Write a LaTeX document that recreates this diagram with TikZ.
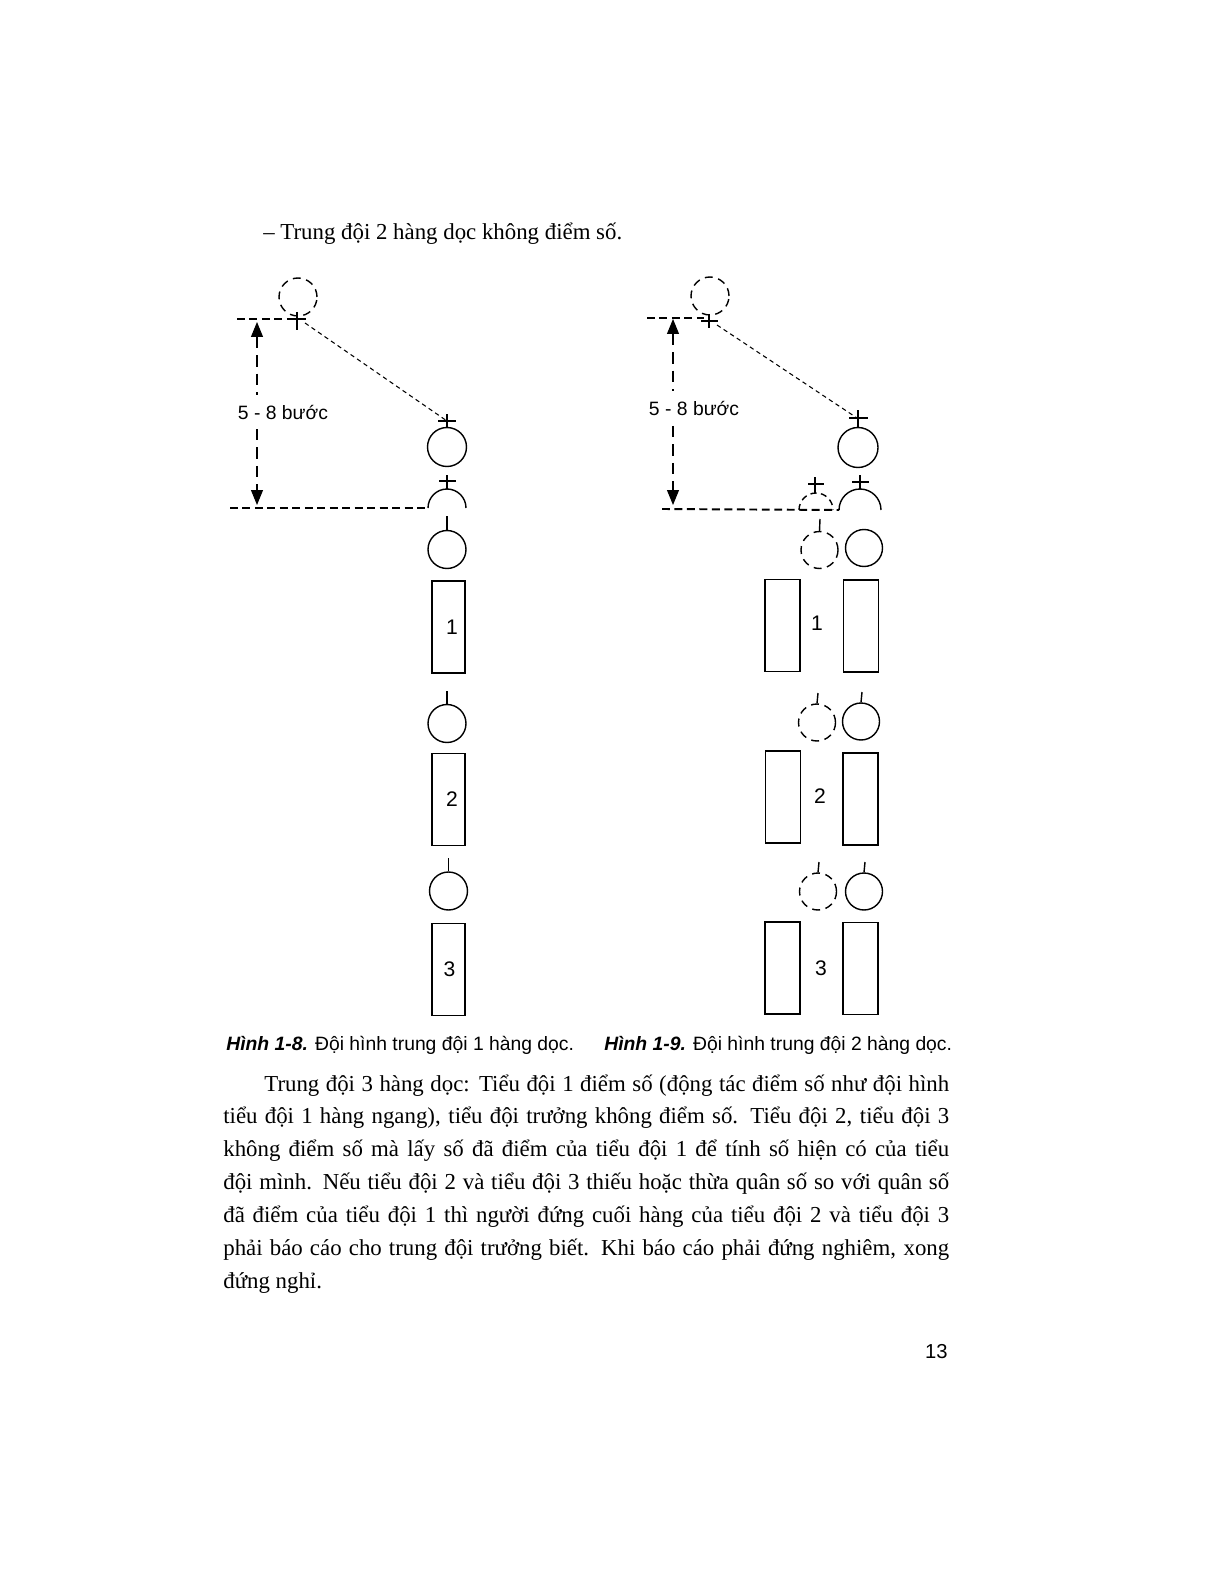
\documentclass[tikz,border=0pt]{standalone}
\usepackage{fontspec}
\setmainfont{Liberation Serif}
\setsansfont{Liberation Sans}
\usetikzlibrary{arrows.meta}

\begin{document}
\begin{tikzpicture}[x=0.02cm,y=-0.02cm,
  man/.style={circle,draw,line width=0.8pt,minimum size=0.76cm,inner sep=0pt},
  ghost/.style={man,dash pattern=on 4.5pt off 3.2pt},
  squad/.style={draw,line width=0.8pt,minimum width=0.68cm,minimum height=1.84cm,inner sep=0pt,font=\sffamily\fontsize{12}{12}\selectfont},
  guide/.style={line width=1.1pt,dash pattern=on 4.5pt off 2.6pt},
  dimline/.style={line width=0.6pt,dash pattern=on 6.5pt off 4pt,{Triangle[length=0.3cm,width=0.24cm]}-{Triangle[length=0.3cm,width=0.24cm]}},
  sight/.style={line width=0.6pt,dash pattern=on 2.5pt off 2pt},
  tick/.style={line width=0.8pt},
  capt/.style={anchor=base west,inner sep=0pt,font=\sffamily\fontsize{11}{13}\selectfont},
  dimlabel/.style={fill=white,inner xsep=1pt,inner ysep=0.2cm,font=\sffamily\fontsize{11}{13}\selectfont}]
  \useasboundingbox[fill=white] (0,0) rectangle (1224,1584);

  \node[anchor=base west,inner sep=0pt,font=\fontsize{13}{16}\selectfont] (head) at (263,240)
    {– Trung đội 2 hàng dọc không điểm số.};

  % Hinh 1-8
  \node[ghost] (Lcmd) at (298,297) {};
  \coordinate (Lpos) at (297,320);
  \coordinate (Ltop) at (237,319);
  \draw[guide] (Ltop) -- (292,319);
  \draw[tick] (297,312) -- (297,330) (289,319) -- (306,319);
  \node[man,minimum size=0.78cm] (Llead) at (447,447) {};
  \coordinate (Lsee) at (447,421);
  \draw[tick] (447,414) -- (Llead.north) (438,421) -- (456,421);
  \draw[sight] (305,323) -- (Lsee);
  \coordinate (Lhalf) at (447,508);
  \draw[line width=0.8pt] ([xshift=-0.38cm]Lhalf) arc[start angle=180,end angle=0,radius=0.38cm];
  \draw[tick] (447,475) -- (447,489) (439,481) -- (456,481);
  \coordinate (Lbase) at (230,508);
  \draw[guide] (Lbase) -- ([xshift=-0.38cm]Lhalf);
  \coordinate (Ldimtop) at (257,322);
  \coordinate (Ldimbot) at (257,505);
  \draw[dimline] (Ldimtop) -- (Ldimbot);
  \node[dimlabel] (Ldist) at (283,412) {5 - 8 bước};
  \node[man] (Lm1) at (447,549.5) {};
  \node[man] (Lm2) at (447,723.5) {};
  \node[man] (Lm3) at (448.5,891) {};
  \draw[tick] (447,516) -- (Lm1.north) (447,691) -- (Lm2.north) (448.5,858) -- (Lm3.north);
  \node[squad,minimum width=0.66cm] (Ls1) at (448.5,627) {\hspace{4pt}1};
  \node[squad,minimum width=0.66cm] (Ls2) at (448.5,799.5) {\hspace{4pt}2};
  \node[squad,minimum width=0.66cm] (Ls3) at (448.5,969.5) {\hspace{1pt}3};
  \node[capt] (Lcap) at (226,1050) {\textbf{\textit{Hình 1-8.}} Đội hình trung đội 1 hàng dọc.};

  % Hinh 1-9
  \node[ghost] (Rcmd) at (710,296) {};
  \coordinate (Rpos) at (709,321);
  \coordinate (Rtop) at (647,318);
  \draw[guide] (Rtop) -- (704,318);
  \draw[tick] (709,314) -- (709,328) (701,321) -- (718,321);
  \node[man,minimum size=0.8cm] (Rlead) at (858,447.5) {};
  \coordinate (Rsee) at (857,418);
  \draw[tick] (858,410) -- (Rlead.north) (849,418) -- (868,418);
  \draw[sight] (717,325) -- (Rsee);
  \coordinate (Rhalf) at (860,510);
  \coordinate (Rghalf) at (816,510);
  \draw[line width=0.8pt] ([xshift=-0.42cm]Rhalf) arc[start angle=180,end angle=0,radius=0.42cm];
  \draw[line width=0.8pt,dash pattern=on 3.5pt off 2.5pt] ([xshift=-0.34cm]Rghalf) arc[start angle=180,end angle=0,radius=0.34cm];
  \draw[tick] (860,475) -- (860,489) (852,482) -- (869,482);
  \draw[tick] (815,477) -- (815,493) (808,484) -- (824,484);
  \coordinate (Rbase) at (662,509);
  \draw[guide] (Rbase) -- ([xshift=-0.42cm]Rhalf);
  \coordinate (Rdimtop) at (673,319);
  \coordinate (Rdimbot) at (673,505);
  \draw[dimline] (Rdimtop) -- (Rdimbot);
  \node[dimlabel] (Rdist) at (694,408) {5 - 8 bước};
  \node[ghost,minimum size=0.74cm] (Rg1) at (819.5,550) {};
  \node[ghost,minimum size=0.74cm] (Rg2) at (817,722.5) {};
  \node[ghost,minimum size=0.74cm] (Rg3) at (818,891.5) {};
  \node[man,minimum size=0.74cm] (Rm1) at (864,548) {};
  \node[man,minimum size=0.74cm] (Rm2) at (861,721.5) {};
  \node[man,minimum size=0.74cm] (Rm3) at (864,891.5) {};
  \draw[tick] (820,519) -- (Rg1.north) (818,693) -- (Rg2.north) (819,862) -- (Rg3.north);
  \draw[tick] (862,692) -- (Rm2.north) (865,862) -- (Rm3.north);
  \node[squad,minimum width=0.7cm] (Rl1) at (782.5,625.5) {};
  \node[squad,minimum width=0.7cm] (Rr1) at (861,626) {};
  \node[squad,minimum width=0.7cm] (Rl2) at (783,797) {};
  \node[squad,minimum width=0.7cm] (Rr2) at (860.5,799) {};
  \node[squad,minimum width=0.7cm] (Rl3) at (782.5,968) {};
  \node[squad,minimum width=0.7cm] (Rr3) at (860.5,968.5) {};
  \node[font=\sffamily\fontsize{12}{12}\selectfont] (Rn1) at (817,623) {1};
  \node[font=\sffamily\fontsize{12}{12}\selectfont] (Rn2) at (820,796) {2};
  \node[font=\sffamily\fontsize{12}{12}\selectfont] (Rn3) at (821,968) {3};
  \node[capt] (Rcap) at (604,1050) {\textbf{\textit{Hình 1-9.}} Đội hình trung đội 2 hàng dọc.};

  \node[anchor=base west,text width=14.52cm,align=justify,inner sep=0pt,
        font=\fontsize{13}{18.7}\selectfont] (para) at (223,1091)
    {\hspace*{0.82cm}Trung đội 3 hàng dọc: Tiểu đội 1 điểm số (động tác điểm số như đội hình\linebreak
     tiểu đội 1 hàng ngang), tiểu đội trưởng không điểm số. Tiểu đội 2, tiểu đội 3\linebreak
     không điểm số mà lấy số đã điểm của tiểu đội 1 để tính số hiện có của tiểu\linebreak
     đội mình. Nếu tiểu đội 2 và tiểu đội 3 thiếu hoặc thừa quân số so với quân số\linebreak
     đã điểm của tiểu đội 1 thì người đứng cuối hàng của tiểu đội 2 và tiểu đội 3\linebreak
     phải báo cáo cho trung đội trưởng biết. Khi báo cáo phải đứng nghiêm, xong\linebreak
     đứng nghỉ.};
  \node[anchor=base east,inner sep=0pt,font=\sffamily\fontsize{11.5}{13}\selectfont] (page) at (948,1358) {13};
\end{tikzpicture}
\end{document}
